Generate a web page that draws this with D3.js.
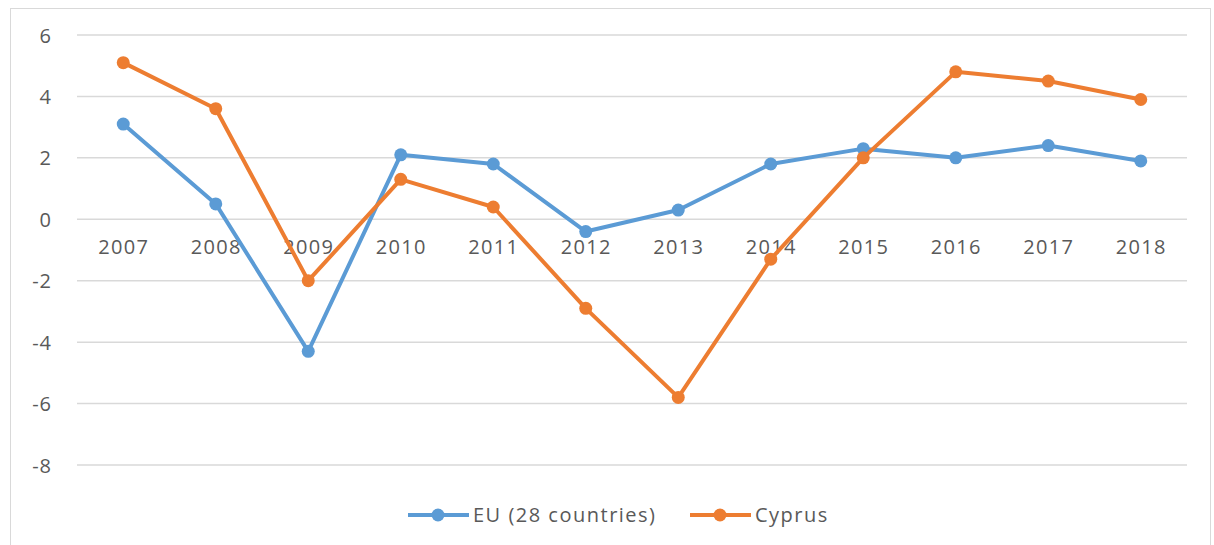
<!DOCTYPE html>
<html><head><meta charset="utf-8">
<script src="https://cdn.jsdelivr.net/npm/d3@7"></script>
<style>body{margin:0;background:#fff}svg{display:block}text{font-family:"Open Sans",sans-serif;fill:#595959}</style>
</head><body>
<svg id="c" width="1214" height="545"></svg>
<script>
const years = ["2007","2008","2009","2010","2011","2012","2013","2014","2015","2016","2017","2018"];
const euValues = [3.1,0.5,-4.3,2.1,1.8,-0.4,0.3,1.8,2.3,2.0,2.4,1.9];
const cyprusValues = [5.1,3.6,-2.0,1.3,0.4,-2.9,-5.8,-1.3,2.0,4.8,4.5,3.9];
const yTicks = [6,4,2,0,-2,-4,-6,-8];
const seriesNames = ["EU (28 countries)","Cyprus"];
const colors = ["#5B9BD5","#ED7D31"];

const svg = d3.select("#c");
svg.append("rect").attr("x",10.5).attr("y",8.5).attr("width",1200).attr("height",545).attr("fill","#fff").attr("stroke","#d9d9d9");

const x = d3.scalePoint().domain(years).range([77,1187]).padding(0.5);
const y = d3.scaleLinear().domain([-8,6]).range([465,35]);

const grid = svg.append("g");
grid.selectAll("line").data(yTicks).join("line")
  .attr("x1",77).attr("x2",1187).attr("y1",d=>y(d)).attr("y2",d=>y(d))
  .attr("stroke","#d9d9d9").attr("stroke-width",1.5);

const yAxis = d3.axisLeft(y).tickValues(yTicks).tickSize(0).tickPadding(0).tickFormat(d=>d<0?"-"+Math.abs(d):d);
const ya = svg.append("g").attr("transform","translate(52,0)").call(yAxis);
ya.select(".domain").remove();
ya.selectAll("text").style("font-size","20px").attr("fill","#595959").attr("dy","0.35em").style("letter-spacing","1px");

const xAxis = d3.axisBottom(x).tickSize(0).tickPadding(0);
const xa = svg.append("g").attr("transform",`translate(0,${y(0)})`).call(xAxis);
xa.select(".domain").remove();
xa.selectAll("text").style("font-size","20px").attr("fill","#595959").attr("y",28).attr("dy","0.35em").style("letter-spacing","1.3px");

const series = [euValues, cyprusValues];
const line = d3.line().x((d,i)=>x(years[i])).y(d=>y(d));
series.forEach((vals,si)=>{
  svg.append("path").datum(vals).attr("d",line).attr("fill","none").attr("stroke",colors[si]).attr("stroke-width",4).attr("stroke-linejoin","round");
  svg.append("g").selectAll("circle").data(vals).join("circle")
    .attr("cx",(d,i)=>x(years[i])).attr("cy",d=>y(d)).attr("r",6.5).attr("fill",colors[si]);
});

// legend
const leg = [{x:408, name:seriesNames[0]},{x:690, name:seriesNames[1]}];
leg.forEach((l,i)=>{
  const g = svg.append("g");
  g.append("line").attr("x1",l.x).attr("x2",l.x+61).attr("y1",515).attr("y2",515).attr("stroke",colors[i]).attr("stroke-width",4);
  g.append("circle").attr("cx",l.x+30).attr("cy",515).attr("r",6.5).attr("fill",colors[i]);
  g.append("text").attr("x",l.x+65).attr("y",515).attr("dy","0.35em").style("font-size","20px").style("letter-spacing","1.5px").text(l.name);
});
</script>
</body></html>
